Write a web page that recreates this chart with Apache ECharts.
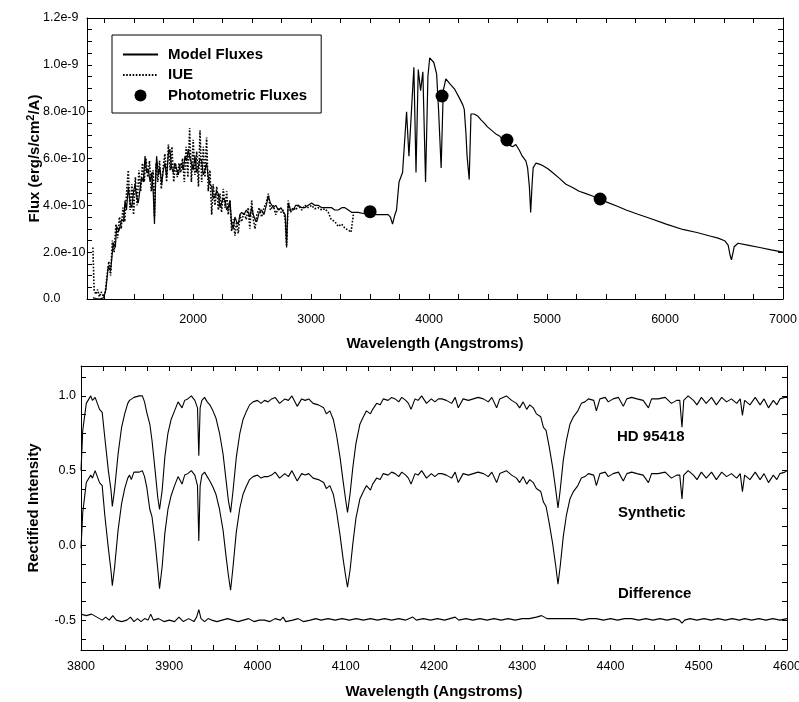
<!DOCTYPE html>
<html>
<head>
<meta charset="utf-8">
<script src="https://cdn.jsdelivr.net/npm/echarts@6.0.0/dist/echarts.min.js"></script>
<style>
html, body { margin: 0; padding: 0; background: #fff; }
#chart { width: 799px; height: 702px; }
</style>
</head>
<body>
<div id="chart"></div>
<script>
// ---- top panel: flux distribution (flux in units of 1e-10 erg/s/cm2/A) ----
var modelWave = [1150, 1180, 1210, 1240, 1260, 1280, 1300, 1323, 1340, 1352, 1370, 1394, 1410, 1422, 1435, 1450, 1465, 1479, 1495, 1507,
    1520, 1535, 1550, 1563, 1578, 1592, 1605, 1620, 1635, 1648, 1662, 1672, 1682, 1690, 1705, 1718, 1733, 1747, 1761, 1775,
    1789, 1803, 1817, 1831, 1845, 1860, 1875, 1888, 1902, 1916, 1931, 1945, 1958, 1973, 1987, 2000, 2015, 2030, 2043, 2058,
    2072, 2086, 2100, 2114, 2128, 2142, 2157, 2170, 2185, 2200, 2213, 2227, 2241, 2255, 2270, 2284, 2297, 2312, 2326, 2340,
    2354, 2368, 2382, 2397, 2411, 2430, 2450, 2467, 2480, 2496, 2510, 2524, 2540, 2560, 2580, 2600, 2620, 2637, 2655, 2679,
    2700, 2721, 2745, 2764, 2780, 2792, 2800, 2806, 2825, 2848, 2870, 2891, 2920, 2947, 2975, 3004, 3030, 3060, 3090, 3117,
    3145, 3174, 3200, 3230, 3260, 3286, 3315, 3343, 3370, 3400, 3440, 3484, 3530, 3569, 3610, 3653, 3672, 3690, 3710, 3724,
    3745, 3775, 3809, 3829, 3871, 3889, 3908, 3928, 3947, 3970, 3990, 4005, 4040, 4064, 4080, 4102, 4120, 4142, 4175, 4218,
    4255, 4285, 4298, 4312, 4322, 4340, 4355, 4362, 4382, 4415, 4440, 4470, 4495, 4530, 4566, 4600, 4622, 4660, 4690, 4707,
    4735, 4765, 4790, 4820, 4835, 4850, 4861, 4873, 4882, 4905, 4940, 4962, 5010, 5046, 5105, 5160, 5220, 5272, 5330, 5385,
    5447, 5500, 5590, 5670, 5770, 5870, 6010, 6150, 6270, 6380, 6450, 6505, 6535, 6550, 6563, 6575, 6586, 6619, 6700, 6803,
    6900, 7000];
var modelFlux = [0.05, 0.02, 0.0, 0.05, 0.4, 1.4, 1.2, 2.4, 2.2, 3.1, 2.9, 3.4, 3.3, 4.2, 3.8, 4.8, 4.1, 3.9, 4.6, 4.9,
    4.4, 4.1, 4.7, 5.2, 5.0, 6.1, 5.4, 5.5, 5.0, 5.4, 4.5, 3.2, 5.2, 6.1, 5.3, 5.6, 4.9, 5.5, 5.8, 5.2,
    6.2, 6.4, 5.6, 5.4, 5.8, 5.8, 5.3, 5.7, 5.8, 5.5, 6.1, 5.9, 6.4, 6.0, 5.8, 5.5, 6.1, 5.4, 5.6, 6.0,
    5.9, 5.3, 5.5, 5.8, 5.2, 4.9, 4.8, 4.3, 4.4, 4.6, 4.5, 3.9, 4.1, 4.3, 4.2, 3.8, 3.9, 4.2, 3.2, 3.0,
    3.5, 3.3, 3.2, 3.6, 3.7, 3.6, 3.8, 3.7, 3.5, 3.9, 3.6, 3.4, 3.3, 3.7, 3.8, 3.6, 4.0, 4.4, 4.1, 3.9,
    4.0, 3.8, 3.9, 3.7, 3.6, 2.2, 3.5, 4.1, 3.8, 3.8, 4.0, 4.0, 3.9, 3.9, 4.0, 4.1, 4.0, 4.0, 3.9, 3.9,
    3.9, 3.9, 3.8, 3.8, 3.9, 3.9, 3.8, 3.7, 3.7, 3.7, 3.65, 3.7, 3.6, 3.6, 3.6, 3.6, 3.5, 3.2, 3.6, 3.8,
    5.0, 5.4, 8.0, 6.1, 9.9, 5.4, 9.8, 8.9, 9.7, 5.0, 9.5, 10.3, 10.1, 9.6, 8.1, 5.6, 8.9, 9.4, 9.2, 8.95,
    8.6, 8.3, 8.1, 7.1, 6.1, 5.1, 7.9, 7.95, 7.9, 7.8, 7.65, 7.5, 7.35, 7.2, 7.05, 6.95, 6.8, 6.6, 6.55, 6.5,
    6.6, 6.35, 6.1, 5.9, 5.6, 4.8, 3.7, 4.9, 5.6, 5.8, 5.75, 5.7, 5.55, 5.4, 5.15, 4.9, 4.75, 4.6, 4.5, 4.4,
    4.27, 4.15, 3.97, 3.8, 3.62, 3.45, 3.2, 2.97, 2.84, 2.69, 2.6, 2.49, 2.3, 1.9, 1.67, 1.95, 2.23, 2.38, 2.3, 2.2,
    2.1, 2.0];

var iueWave = [1150, 1160, 1175, 1190, 1205, 1220, 1240, 1255, 1270, 1285, 1300, 1315, 1330, 1345, 1360, 1375, 1390, 1405, 1420, 1435,
    1450, 1465, 1480, 1495, 1510, 1525, 1540, 1555, 1570, 1585, 1600, 1615, 1630, 1645, 1660, 1672, 1685, 1700, 1715, 1730,
    1745, 1760, 1775, 1790, 1805, 1820, 1835, 1850, 1865, 1880, 1895, 1910, 1925, 1940, 1955, 1970, 1985, 2000, 2015, 2030,
    2045, 2058, 2072, 2086, 2100, 2114, 2128, 2142, 2157, 2170, 2185, 2200, 2213, 2227, 2241, 2255, 2270, 2284, 2297, 2312,
    2326, 2340, 2354, 2368, 2382, 2397, 2411, 2430, 2450, 2467, 2480, 2496, 2510, 2524, 2540, 2560, 2580, 2600, 2620, 2637,
    2655, 2679, 2700, 2721, 2745, 2764, 2780, 2792, 2800, 2806, 2825, 2848, 2870, 2891, 2920, 2947, 2975, 3004, 3030, 3060,
    3090, 3117, 3145, 3170, 3202, 3230, 3258, 3290, 3315, 3338, 3350, 3358];
var iueFlux = [2.2, 0.4, 0.2, 0.4, 0.1, 0.3, 0.1, 0.3, 1.0, 1.6, 1.0, 2.5, 2.0, 3.2, 2.6, 3.5, 3.0, 3.9, 3.3, 4.5,
    5.5, 3.8, 4.9, 3.6, 5.2, 4.0, 5.5, 4.6, 5.8, 5.0, 6.0, 5.2, 5.9, 4.6, 5.5, 3.5, 5.8, 5.0, 5.9, 4.7,
    5.6, 6.2, 5.0, 6.6, 5.5, 6.5, 5.0, 5.8, 5.2, 5.8, 5.4, 6.0, 5.0, 6.5, 5.2, 7.3, 5.0, 6.8, 5.3, 6.3,
    4.8, 7.2, 5.0, 6.5, 5.2, 6.9, 4.6, 5.5, 3.6, 4.9, 4.0, 4.8, 3.8, 4.5, 3.7, 4.7, 3.9, 4.6, 3.6, 4.2,
    2.9, 3.4, 2.7, 3.3, 2.8, 3.6, 3.3, 3.7, 3.4, 3.9, 3.0, 4.2, 3.4, 3.0, 3.6, 3.9, 3.5, 3.9, 4.1, 4.5,
    3.8, 4.0, 3.6, 3.9, 3.7, 3.8, 3.4, 2.3, 3.4, 4.2, 3.7, 3.9, 3.8, 4.0, 3.8, 4.0, 3.9, 4.0, 3.85, 3.9,
    3.8, 3.85, 3.7, 3.4, 3.3, 3.1, 3.2, 3.0, 2.95, 2.85, 3.3, 3.6];

var photWave = [3500, 4110, 4660, 5450];
var photFlux = [3.73, 8.67, 6.79, 4.27];

var topXLabels = [2000, 3000, 4000, 5000, 6000, 7000];
var topYValues = [0, 2, 4, 6, 8, 10, 12];
var topYLabels = ['0.0', '2.0e-10', '4.0e-10', '6.0e-10', '8.0e-10', '1.0e-9', '1.2e-9'];

// ---- bottom panel: rectified spectra ----
var specWave = [3800, 3802, 3806, 3811, 3813, 3816, 3818, 3821, 3824, 3827, 3831, 3834, 3835.5, 3838, 3842, 3846, 3849.5, 3853, 3855, 3857,
    3860, 3862, 3866, 3869.5, 3872, 3874.5, 3878, 3880.5, 3884, 3887, 3889, 3892, 3895, 3898.5, 3902, 3906, 3910, 3912, 3914.5, 3917.5,
    3921, 3925, 3929, 3932, 3933.5, 3935, 3937, 3940, 3943, 3946, 3949.5, 3953, 3957, 3961, 3964.5, 3967, 3969.5, 3972, 3976, 3980,
    3983.5, 3987, 3991, 3995, 4000, 4004, 4008, 4012, 4016, 4020, 4025, 4031, 4035, 4039, 4045, 4050, 4054, 4058, 4063, 4069,
    4075, 4078, 4082, 4086, 4089.5, 4093.5, 4097, 4100, 4102, 4105, 4108, 4111.5, 4116, 4120, 4123.5, 4128, 4130.5, 4135, 4139, 4142.5,
    4148, 4152, 4156, 4160, 4163.5, 4168, 4171, 4174, 4178.5, 4182, 4186, 4191.5, 4197, 4201, 4205, 4209, 4214, 4220, 4224, 4227.5,
    4233, 4239, 4244.5, 4250, 4256, 4261.5, 4265.5, 4271, 4274.5, 4282, 4288, 4293.5, 4297, 4301, 4305, 4308.5, 4312.5, 4316, 4321, 4324,
    4327, 4330.5, 4334.5, 4338, 4340.5, 4343, 4346.5, 4350, 4354, 4358, 4363, 4367, 4371, 4375, 4381, 4384, 4388, 4394, 4397.5, 4403,
    4409, 4414.5, 4418.5, 4424, 4430, 4437, 4443, 4446.5, 4454, 4462, 4469, 4475, 4478.5, 4481, 4483, 4488, 4494, 4498, 4503, 4508.5,
    4514.5, 4520, 4526, 4531.5, 4537, 4543, 4547, 4549.5, 4552, 4558, 4564, 4569.5, 4574, 4579, 4584.5, 4588.5, 4592, 4597.5, 4600];
var hdValues = [0.50, 0.77, 0.95, 1.00, 0.97, 0.99, 1.00, 0.91, 0.89, 0.72, 0.50, 0.37, 0.26, 0.37, 0.61, 0.79, 0.88, 0.95, 0.97, 0.96,
    0.99, 0.98, 1.00, 1.00, 0.96, 0.89, 0.81, 0.70, 0.50, 0.32, 0.24, 0.37, 0.59, 0.75, 0.84, 0.90, 0.96, 0.97, 0.92, 0.97,
    0.98, 1.00, 0.97, 0.92, 0.60, 0.92, 0.97, 0.99, 0.96, 0.94, 0.90, 0.85, 0.75, 0.61, 0.43, 0.30, 0.22, 0.35, 0.59, 0.75,
    0.84, 0.89, 0.94, 0.96, 0.97, 0.95, 0.97, 0.96, 0.98, 0.99, 0.95, 0.98, 0.97, 1.00, 0.93, 0.98, 0.97, 0.98, 0.95, 0.94,
    0.92, 0.88, 0.90, 0.84, 0.74, 0.59, 0.43, 0.30, 0.22, 0.35, 0.52, 0.68, 0.81, 0.86, 0.90, 0.88, 0.91, 0.95, 0.94, 0.98,
    0.97, 0.99, 0.98, 0.96, 0.99, 0.97, 0.95, 0.91, 0.98, 0.97, 1.00, 0.95, 0.98, 0.96, 0.98, 0.98, 0.97, 0.95, 0.99, 0.92,
    0.98, 0.97, 0.98, 0.99, 0.98, 0.96, 0.99, 0.92, 0.98, 1.00, 0.97, 0.95, 0.92, 0.96, 0.91, 0.94, 0.92, 0.88, 0.86, 0.79,
    0.77, 0.66, 0.52, 0.37, 0.25, 0.37, 0.57, 0.70, 0.81, 0.86, 0.90, 0.95, 0.96, 0.98, 0.97, 0.90, 0.98, 0.99, 0.96, 0.98,
    0.99, 0.93, 0.98, 0.99, 0.98, 0.97, 0.92, 0.98, 0.98, 0.99, 0.95, 0.97, 0.97, 0.79, 0.97, 1.00, 0.97, 0.94, 0.99, 0.95,
    0.99, 0.94, 0.99, 0.96, 0.98, 0.95, 0.98, 0.87, 0.97, 0.94, 0.99, 0.94, 0.98, 0.92, 0.97, 0.94, 0.98, 0.99, 0.99];
var synValues = [-0.02, 0.22, 0.42, 0.47, 0.45, 0.50, 0.49, 0.42, 0.40, 0.20, -0.02, -0.17, -0.27, -0.15, 0.10, 0.28, 0.38, 0.45, 0.47, 0.44,
    0.49, 0.48, 0.49, 0.50, 0.46, 0.39, 0.24, 0.19, 0.02, -0.16, -0.29, -0.14, 0.08, 0.24, 0.33, 0.40, 0.46, 0.47, 0.41, 0.47,
    0.48, 0.50, 0.47, 0.40, 0.03, 0.40, 0.47, 0.49, 0.46, 0.43, 0.39, 0.34, 0.24, 0.10, -0.08, -0.20, -0.30, -0.16, 0.09, 0.25,
    0.34, 0.39, 0.44, 0.46, 0.47, 0.45, 0.46, 0.46, 0.47, 0.49, 0.45, 0.48, 0.46, 0.50, 0.43, 0.48, 0.47, 0.48, 0.45, 0.44,
    0.42, 0.38, 0.40, 0.34, 0.23, 0.07, -0.09, -0.21, -0.28, -0.16, 0.01, 0.18, 0.31, 0.36, 0.40, 0.37, 0.41, 0.45, 0.44, 0.48,
    0.47, 0.49, 0.48, 0.46, 0.49, 0.47, 0.45, 0.41, 0.48, 0.47, 0.50, 0.45, 0.48, 0.46, 0.48, 0.48, 0.47, 0.45, 0.49, 0.42,
    0.48, 0.47, 0.48, 0.49, 0.48, 0.46, 0.49, 0.42, 0.48, 0.50, 0.47, 0.45, 0.42, 0.46, 0.41, 0.44, 0.42, 0.38, 0.36, 0.29,
    0.26, 0.15, 0.01, -0.14, -0.26, -0.14, 0.06, 0.20, 0.31, 0.36, 0.40, 0.45, 0.46, 0.48, 0.47, 0.40, 0.48, 0.49, 0.46, 0.48,
    0.49, 0.43, 0.48, 0.49, 0.48, 0.47, 0.42, 0.48, 0.48, 0.49, 0.45, 0.47, 0.47, 0.31, 0.47, 0.50, 0.47, 0.44, 0.49, 0.45,
    0.49, 0.44, 0.49, 0.46, 0.48, 0.45, 0.48, 0.36, 0.47, 0.44, 0.49, 0.44, 0.48, 0.42, 0.47, 0.44, 0.48, 0.49, 0.50];

var diffWave = [3800, 3806, 3812, 3818, 3824, 3828, 3832, 3836, 3840, 3846, 3852, 3856, 3860, 3864, 3868, 3872, 3876, 3879, 3882, 3888,
    3894, 3900, 3906, 3911, 3916, 3922, 3928, 3931, 3933.5, 3936, 3940, 3944, 3948, 3954, 3960, 3966, 3972, 3978, 3984, 3990,
    3996, 4002, 4008, 4014, 4020, 4026, 4029, 4032, 4040, 4046, 4052, 4060, 4066, 4072, 4080, 4088, 4096, 4104, 4112, 4120,
    4128, 4136, 4144, 4152, 4160, 4168, 4176, 4180, 4188, 4196, 4204, 4212, 4218, 4224, 4228, 4236, 4244, 4252, 4260, 4268,
    4276, 4284, 4292, 4300, 4308, 4316, 4322, 4328, 4336, 4344, 4352, 4360, 4368, 4376, 4384, 4392, 4400, 4408, 4416, 4424,
    4432, 4440, 4448, 4456, 4464, 4472, 4478, 4481, 4484, 4490, 4498, 4506, 4514, 4522, 4530, 4538, 4546, 4552, 4560, 4568,
    4576, 4584, 4592, 4600];
var diffValues = [-0.46, -0.47, -0.46, -0.48, -0.50, -0.48, -0.50, -0.47, -0.50, -0.51, -0.50, -0.48, -0.51, -0.49, -0.51, -0.49, -0.50, -0.46, -0.50, -0.49,
    -0.51, -0.50, -0.51, -0.48, -0.51, -0.49, -0.51, -0.48, -0.43, -0.49, -0.51, -0.49, -0.50, -0.51, -0.50, -0.49, -0.50, -0.51, -0.50, -0.49,
    -0.51, -0.50, -0.50, -0.51, -0.49, -0.50, -0.48, -0.51, -0.50, -0.49, -0.51, -0.50, -0.49, -0.50, -0.49, -0.50, -0.49, -0.50, -0.49, -0.50,
    -0.49, -0.50, -0.49, -0.50, -0.49, -0.50, -0.48, -0.50, -0.49, -0.50, -0.49, -0.50, -0.49, -0.48, -0.50, -0.49, -0.50, -0.49, -0.50, -0.49,
    -0.50, -0.49, -0.50, -0.49, -0.49, -0.48, -0.47, -0.49, -0.49, -0.49, -0.49, -0.49, -0.50, -0.49, -0.49, -0.50, -0.49, -0.50, -0.49, -0.49,
    -0.50, -0.49, -0.50, -0.49, -0.50, -0.49, -0.50, -0.52, -0.50, -0.49, -0.50, -0.49, -0.50, -0.49, -0.50, -0.49, -0.50, -0.49, -0.50, -0.49,
    -0.50, -0.49, -0.50, -0.49];

var bottomXLabels = [3800, 3900, 4000, 4100, 4200, 4300, 4400, 4500, 4600];
var bottomYValues = [-0.5, 0.0, 0.5, 1.0];
var bottomYLabels = ['-0.5', '0.0', '0.5', '1.0'];

var FONT = '"Liberation Sans", Arial, Helvetica, sans-serif';

function zip(xs, ys) {
    return xs.map(function (x, i) { return [x, ys[i]]; });
}
// minor tick positions strictly inside an axis range
function steps(from, to, step) {
    var out = [];
    for (var v = from; v <= to + 1e-9; v += step) out.push(Math.round(v * 1000) / 1000);
    return out;
}

var chart = echarts.init(document.getElementById('chart'), null, { renderer: 'canvas' });

var frameLine = { show: true, onZero: false, lineStyle: { color: '#000', width: 1 } };
function tick(values) {
    return { show: true, inside: true, length: 5, customValues: values, lineStyle: { color: '#000', width: 1 } };
}
var nameStyle = { color: '#000', fontFamily: FONT, fontWeight: 'bold', fontSize: 15 };
var labelBase = { color: '#000', fontFamily: FONT, fontSize: 12.5 };

var topXTicks = steps(1250, 6750, 250);
var topYTicks = steps(0.5, 11.5, 0.5);
var botXTicks = steps(3825, 4575, 25);
var botYTicks = steps(-0.625, 1.125, 0.125);

var option = {
    animation: false,
    backgroundColor: '#fff',
    grid: [
        { left: 87, right: 16, top: 18, bottom: 403, outerBoundsMode: 'none' },
        { left: 81, right: 12, top: 366, bottom: 52, outerBoundsMode: 'none' }
    ],
    legend: {
        data: [
            { name: 'Model Fluxes', itemStyle: { opacity: 0 } },
            { name: 'IUE', itemStyle: { opacity: 0 } },
            { name: 'Photometric Fluxes' }
        ],
        orient: 'vertical',
        left: 112,
        top: 35,
        padding: [12, 14, 10, 10],
        itemWidth: 35,
        itemHeight: 12,
        itemGap: 5.5,
        borderColor: '#000',
        borderWidth: 1,
        backgroundColor: '#fff',
        selectedMode: false,
        textStyle: { color: '#000', fontFamily: FONT, fontWeight: 'bold', fontSize: 15, padding: [0, 0, 0, 5] }
    },
    xAxis: [
        {
            type: 'value', gridIndex: 0, position: 'bottom', min: 1100, max: 7000,
            axisLine: frameLine, axisTick: tick(topXTicks), splitLine: { show: false },
            axisLabel: Object.assign({ margin: 14, customValues: topXLabels, formatter: function (v) { return String(v); } }, labelBase),
            name: 'Wavelength (Angstroms)', nameLocation: 'middle', nameGap: 37, nameMoveOverlap: false, nameTextStyle: nameStyle
        },
        {
            type: 'value', gridIndex: 0, position: 'top', min: 1100, max: 7000,
            axisLine: frameLine, axisTick: tick(topXTicks), axisLabel: { show: false }, splitLine: { show: false }
        },
        {
            type: 'value', gridIndex: 1, position: 'bottom', min: 3800, max: 4600,
            axisLine: frameLine, axisTick: tick(botXTicks), splitLine: { show: false },
            axisLabel: Object.assign({ margin: 10, customValues: bottomXLabels, formatter: function (v) { return String(v); } }, labelBase),
            name: 'Wavelength (Angstroms)', nameLocation: 'middle', nameGap: 34, nameMoveOverlap: false, nameTextStyle: nameStyle
        },
        {
            type: 'value', gridIndex: 1, position: 'top', min: 3800, max: 4600,
            axisLine: frameLine, axisTick: tick(botXTicks), axisLabel: { show: false }, splitLine: { show: false }
        }
    ],
    yAxis: [
        {
            type: 'value', gridIndex: 0, position: 'left', min: 0, max: 12,
            axisLine: frameLine, axisTick: tick(topYTicks), splitLine: { show: false },
            axisLabel: Object.assign({
                margin: 44, align: 'left', customValues: topYValues,
                formatter: function (v) { return topYLabels[topYValues.indexOf(v)]; }
            }, labelBase),
            name: 'Flux (erg/s/cm{sup|2}/A)', nameLocation: 'middle', nameGap: 43, nameMoveOverlap: false,
            nameTextStyle: Object.assign({ rich: { sup: { fontFamily: FONT, fontWeight: 'bold', fontSize: 11, color: '#000', padding: [0, 0, 8, 0] } } }, nameStyle)
        },
        {
            type: 'value', gridIndex: 0, position: 'right', min: 0, max: 12,
            axisLine: frameLine, axisTick: tick(topYTicks), axisLabel: { show: false }, splitLine: { show: false }
        },
        {
            type: 'value', gridIndex: 1, position: 'left', min: -0.7, max: 1.2,
            axisLine: frameLine, axisTick: tick(botYTicks), splitLine: { show: false },
            axisLabel: Object.assign({
                margin: 5, customValues: bottomYValues,
                formatter: function (v) { return bottomYLabels[bottomYValues.indexOf(v)]; }
            }, labelBase),
            name: 'Rectified Intensity', nameLocation: 'middle', nameGap: 40, nameMoveOverlap: false, nameTextStyle: nameStyle
        },
        {
            type: 'value', gridIndex: 1, position: 'right', min: -0.7, max: 1.2,
            axisLine: frameLine, axisTick: tick(botYTicks), axisLabel: { show: false }, splitLine: { show: false }
        }
    ],
    series: [
        {
            name: 'Model Fluxes', type: 'line', xAxisIndex: 0, yAxisIndex: 0, symbol: 'none', z: 3,
            data: zip(modelWave, modelFlux), lineStyle: { color: '#000', width: 1.2 }, itemStyle: { color: '#000' }
        },
        {
            name: 'IUE', type: 'line', xAxisIndex: 0, yAxisIndex: 0, symbol: 'none', z: 2,
            data: zip(iueWave, iueFlux), lineStyle: { color: '#000', width: 1.6, type: [1.6, 1.6] }, itemStyle: { color: '#000' }
        },
        {
            name: 'Photometric Fluxes', type: 'scatter', xAxisIndex: 0, yAxisIndex: 0, symbol: 'circle', symbolSize: 13, z: 5,
            data: zip(photWave, photFlux), itemStyle: { color: '#000', opacity: 1 }
        },
        {
            name: 'HD 95418', type: 'line', xAxisIndex: 2, yAxisIndex: 2, symbol: 'none',
            data: zip(specWave, hdValues), lineStyle: { color: '#000', width: 1.1 }
        },
        {
            name: 'Synthetic', type: 'line', xAxisIndex: 2, yAxisIndex: 2, symbol: 'none',
            data: zip(specWave, synValues), lineStyle: { color: '#000', width: 1.1 }
        },
        {
            name: 'Difference', type: 'line', xAxisIndex: 2, yAxisIndex: 2, symbol: 'none',
            data: zip(diffWave, diffValues), lineStyle: { color: '#000', width: 1.1 }
        }
    ],
    graphic: [
        { type: 'text', left: 617, top: 429, style: { text: 'HD 95418', fill: '#000', font: 'bold 15px ' + FONT } },
        { type: 'text', left: 618, top: 505, style: { text: 'Synthetic', fill: '#000', font: 'bold 15px ' + FONT } },
        { type: 'text', left: 618, top: 586, style: { text: 'Difference', fill: '#000', font: 'bold 15px ' + FONT } }
    ]
};

chart.setOption(option);
</script>
</body>
</html>
